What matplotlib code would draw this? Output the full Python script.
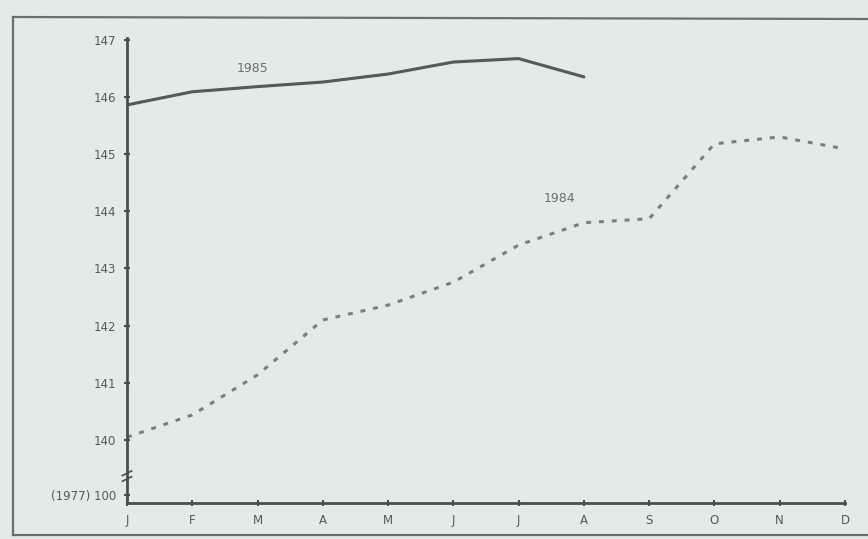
import matplotlib
matplotlib.use('Agg')
import matplotlib.pyplot as plt
from matplotlib.lines import Line2D

# data (index, 1977 = 100)
months = ['J', 'F', 'M', 'A', 'M', 'J', 'J', 'A', 'S', 'O', 'N', 'D']
vals_1985 = [145.86, 146.09, 146.18, 146.26, 146.40, 146.61, 146.67, 146.35]
vals_1984 = [140.05, 140.44, 141.14, 142.10, 142.36, 142.76, 143.41, 143.80,
             143.87, 145.18, 145.30, 145.09]
yticks = [140, 141, 142, 143, 144, 145, 146, 147]
base_label = '(1977) 100'
base_pos = 139.04   # where the broken axis puts the 100 base

bg = '#e3ebe6'
ink = '#4a4f4d'

fig = plt.figure(figsize=(8.68, 5.39), dpi=100, facecolor=bg)
ax = fig.add_axes([127/868, 36/539, 718/868, 465/539])
ax.set_facecolor('none')

# frame round the chart (open on the right, like the scan)
W, H = 868, 539
frame = [([13, 868], [H-17, H-19]), ([13, 13], [H-17, H-535]), ([13, 868], [H-535, H-535])]
for xs, ys in frame:
    fig.lines.append(Line2D([x/W for x in xs], [y/H for y in ys],
                            transform=fig.transFigure, color='#6a6e6c', lw=1.6))

x85 = list(range(len(vals_1985)))
x84 = list(range(len(vals_1984)))
ax.plot(x85, vals_1985, color='#555a58', lw=2.2, solid_capstyle='round')
ax.plot(x84, vals_1984, color='#7a7f7d', lw=2.2, linestyle=(0, (1.6, 2.6)))

ax.text(1.93, 146.49, '1985', fontsize=9, color='#6a6e6c', ha='center', va='center')
ax.text(6.63, 144.23, '1984', fontsize=9, color='#6a6e6c', ha='center', va='center')

ax.set_xlim(0, 11)
ax.set_ylim(138.9, 147.03)
ax.set_xticks(range(12))
ax.set_xticklabels(months)
ax.set_yticks([base_pos] + yticks)
ax.set_yticklabels([base_label] + [str(v) for v in yticks])

for s in ['top', 'right']:
    ax.spines[s].set_visible(False)
for s in ['left', 'bottom']:
    ax.spines[s].set_color(ink)
    ax.spines[s].set_linewidth(2)

ax.tick_params(axis='both', colors=ink, labelcolor='#555957', labelsize=8.5,
               length=4, width=1.5, direction='inout')
ax.tick_params(axis='y', pad=6)
ax.tick_params(axis='x', pad=6)

# break marks on the y axis
for dy in (0.0, 0.1):
    ax.plot([-0.07, 0.07], [139.28 + dy, 139.36 + dy], color=ink, lw=1.2,
            clip_on=False)

plt.savefig('out.png', dpi=100, facecolor=bg)
